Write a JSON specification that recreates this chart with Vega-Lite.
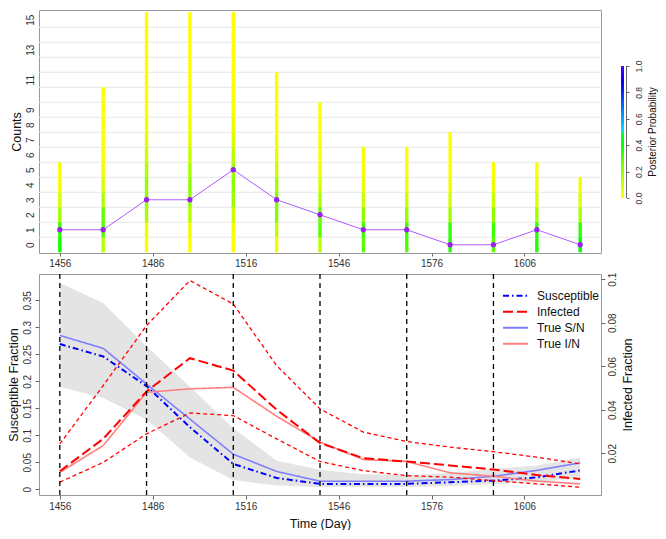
{
  "$schema": "https://vega.github.io/schema/vega-lite/v6.json",
  "padding": {"left": 6, "top": 9, "right": 0, "bottom": 0},
  "config": {
    "font": "Liberation Sans",
    "view": {"stroke": "#999999", "strokeWidth": 1},
    "axis": {"labelFont": "Liberation Sans", "labelFontSize": 10, "labelColor": "#333333", "titleFont": "Liberation Sans", "titleFontSize": 12.5, "titleFontWeight": "normal", "titleColor": "#111111", "tickColor": "#666666", "domain": false, "grid": false, "labelOverlap": false},
    "legend": {"labelFont": "Liberation Sans", "labelFontSize": 12, "labelColor": "#111111"}
  },
  "datasets": {
    "post": [
      {"day": 1456, "k": [0,1,2,3,4,5], "p": [0.38,0.34,0.18,0.07,0.02,0.01]},
      {"day": 1470, "k": [0,1,2,3,4,5,6,7,8,9,10], "p": [0.14,0.3,0.28,0.15,0.07,0.03,0.01,0.005,0.003,0.001,0.001]},
      {"day": 1484, "k": [0,1,2,3,4,5,6,7,8,9,10,11,12,13,14,15], "p": [0.01,0.03,0.17,0.22,0.21,0.16,0.1,0.05,0.03,0.01,0.005,0.003,0.002,0.001,0.001,0.001]},
      {"day": 1498, "k": [0,1,2,3,4,5,6,7,8,9,10,11,12,13,14,15], "p": [0.005,0.03,0.14,0.21,0.22,0.17,0.11,0.06,0.03,0.015,0.005,0.003,0.002,0.001,0.001,0.001]},
      {"day": 1512, "k": [0,1,2,3,4,5,6,7,8,9,10,11,12,13,14,15], "p": [0.003,0.02,0.1,0.2,0.22,0.19,0.13,0.07,0.04,0.015,0.007,0.003,0.002,0.001,0.001,0.001]},
      {"day": 1526, "k": [0,1,2,3,4,5,6,7,8,9,10,11], "p": [0.03,0.12,0.24,0.25,0.18,0.1,0.05,0.02,0.008,0.004,0.002,0.001]},
      {"day": 1540, "k": [0,1,2,3,4,5,6,7,8,9], "p": [0.14,0.3,0.28,0.16,0.07,0.03,0.01,0.005,0.002,0.001]},
      {"day": 1554, "k": [0,1,2,3,4,5,6], "p": [0.3,0.33,0.22,0.1,0.04,0.01,0.005]},
      {"day": 1568, "k": [0,1,2,3,4,5,6], "p": [0.31,0.33,0.21,0.1,0.03,0.01,0.005]},
      {"day": 1582, "k": [0,1,2,3,4,5,6,7], "p": [0.36,0.34,0.18,0.08,0.03,0.01,0.005,0.002]},
      {"day": 1596, "k": [0,1,2,3,4,5], "p": [0.3,0.33,0.22,0.1,0.04,0.01]},
      {"day": 1610, "k": [0,1,2,3,4,5], "p": [0.36,0.35,0.18,0.07,0.03,0.01]},
      {"day": 1624, "k": [0,1,2,3,4], "p": [0.4,0.35,0.17,0.06,0.02]}
    ],
    "truth": [
      {"day": 1456, "n": 1}, {"day": 1470, "n": 1}, {"day": 1484, "n": 3}, {"day": 1498, "n": 3},
      {"day": 1512, "n": 5}, {"day": 1526, "n": 3}, {"day": 1540, "n": 2}, {"day": 1554, "n": 1},
      {"day": 1568, "n": 1}, {"day": 1582, "n": 0}, {"day": 1596, "n": 0}, {"day": 1610, "n": 1}, {"day": 1624, "n": 0}
    ],
    "grid": [
      {"g": 0.5}, {"g": 1.5}, {"g": 2.5}, {"g": 3.5}, {"g": 4.5}, {"g": 5.5}, {"g": 6.5}, {"g": 7.5},
      {"g": 8.5}, {"g": 9.5}, {"g": 10.5}, {"g": 11.5}, {"g": 12.5}, {"g": 13.5}, {"g": 14.5}
    ],
    "frac": [
      {"day": 1456, "s_lo": 0.190, "s_hi": 0.382, "s_est": 0.269, "s_true": 0.285, "i_lo": 0.0067, "i_hi": 0.0243, "i_est": 0.0117, "i_true": 0.0112},
      {"day": 1470, "s_lo": 0.169, "s_hi": 0.345, "s_est": 0.246, "s_true": 0.261, "i_lo": 0.0158, "i_hi": 0.0511, "i_est": 0.0266, "i_true": 0.0235},
      {"day": 1484, "s_lo": 0.129, "s_hi": 0.265, "s_est": 0.191, "s_true": 0.195, "i_lo": 0.0289, "i_hi": 0.0787, "i_est": 0.0484, "i_true": 0.0480},
      {"day": 1498, "s_lo": 0.059, "s_hi": 0.190, "s_est": 0.115, "s_true": 0.130, "i_lo": 0.0385, "i_hi": 0.0994, "i_est": 0.0637, "i_true": 0.0496},
      {"day": 1512, "s_lo": 0.017, "s_hi": 0.113, "s_est": 0.047, "s_true": 0.065, "i_lo": 0.0373, "i_hi": 0.0886, "i_est": 0.0580, "i_true": 0.0503},
      {"day": 1526, "s_lo": 0.007, "s_hi": 0.053, "s_est": 0.021, "s_true": 0.033, "i_lo": 0.0266, "i_hi": 0.0603, "i_est": 0.0400, "i_true": 0.0370},
      {"day": 1540, "s_lo": 0.004, "s_hi": 0.036, "s_est": 0.010, "s_true": 0.015, "i_lo": 0.0162, "i_hi": 0.0404, "i_est": 0.0247, "i_true": 0.0252},
      {"day": 1554, "s_lo": 0.004, "s_hi": 0.028, "s_est": 0.010, "s_true": 0.015, "i_lo": 0.0120, "i_hi": 0.0297, "i_est": 0.0177, "i_true": 0.0171},
      {"day": 1568, "s_lo": 0.004, "s_hi": 0.026, "s_est": 0.010, "s_true": 0.015, "i_lo": 0.0097, "i_hi": 0.0254, "i_est": 0.0162, "i_true": 0.0162},
      {"day": 1582, "s_lo": 0.006, "s_hi": 0.030, "s_est": 0.013, "s_true": 0.018, "i_lo": 0.0090, "i_hi": 0.0228, "i_est": 0.0144, "i_true": 0.0110},
      {"day": 1596, "s_lo": 0.010, "s_hi": 0.038, "s_est": 0.016, "s_true": 0.024, "i_lo": 0.0074, "i_hi": 0.0207, "i_est": 0.0125, "i_true": 0.0094},
      {"day": 1610, "s_lo": 0.013, "s_hi": 0.044, "s_est": 0.022, "s_true": 0.035, "i_lo": 0.0059, "i_hi": 0.0182, "i_est": 0.0100, "i_true": 0.0072},
      {"day": 1624, "s_lo": 0.022, "s_hi": 0.059, "s_est": 0.035, "s_true": 0.049, "i_lo": 0.0044, "i_hi": 0.0151, "i_est": 0.0082, "i_true": 0.0059}
    ],
    "obs": [{"day": 1456}, {"day": 1484}, {"day": 1512}, {"day": 1540}, {"day": 1568}, {"day": 1596}],
    "cbar": [{"lo": 0, "hi": 1}]
  },
  "resolve": {"scale": {"color": "independent", "strokeDash": "independent"}},
  "spacing": 2,
  "vconcat": [
    {
      "spacing": 19,
      "hconcat": [
        {
          "width": 562,
          "height": 243,
          "layer": [
            {
              "data": {"name": "grid"},
              "mark": {"type": "rule", "color": "#e6e6e6", "strokeWidth": 1},
              "encoding": {
                "y": {"field": "g", "type": "quantitative", "scale": {"domain": [-0.55, 15.65], "nice": false, "zero": false}, "axis": {"title": "Counts", "values": [0,1,2,3,4,5,6,7,8,9,11,13,15], "format": "d", "labelAngle": -90, "ticks": false, "labelPadding": 4, "titlePadding": 2, "labelOverlap": false}}
              }
            },
            {
              "data": {"name": "post"},
              "transform": [{"flatten": ["k", "p"]}],
              "mark": {"type": "tick", "orient": "vertical", "size": 15.2, "thickness": 3.4, "opacity": 1},
              "encoding": {
                "x": {"field": "day", "type": "quantitative", "scale": {"domain": [1449.28, 1630.72], "nice": false, "zero": false}, "axis": {"title": null, "values": [1456,1486,1516,1546,1576,1606], "format": "d", "tickSize": 3, "labelPadding": 2}},
                "y": {"field": "k", "type": "quantitative", "scale": {"domain": [-0.55, 15.65], "nice": false, "zero": false}, "axis": {"title": "Counts", "values": [0,1,2,3,4,5,6,7,8,9,11,13,15], "format": "d", "labelAngle": -90, "ticks": false, "labelPadding": 4, "titlePadding": 2, "labelOverlap": false}},
                "color": {"field": "p", "type": "quantitative", "legend": null, "scale": {"type": "linear", "domain": [0, 0.1, 0.25, 0.4, 0.5, 0.5001, 0.625, 0.75, 0.875, 1], "range": ["#ffff00", "#ccff00", "#80ff00", "#00ff00", "#00ff4d", "#00e5ff", "#0099ff", "#004cff", "#0000ff", "#4c00ff"], "interpolate": "rgb"}}
              }
            },
            {
              "data": {"name": "truth"},
              "mark": {"type": "line", "color": "#b05cff", "strokeWidth": 1, "point": {"filled": true, "size": 28, "color": "#9a22f0"}},
              "encoding": {
                "x": {"field": "day", "type": "quantitative", "scale": {"domain": [1449.28, 1630.72], "nice": false, "zero": false}, "axis": {"title": null, "values": [1456,1486,1516,1546,1576,1606], "format": "d", "tickSize": 3, "labelPadding": 2}},
                "y": {"field": "n", "type": "quantitative", "scale": {"domain": [-0.55, 15.65], "nice": false, "zero": false}, "axis": {"title": "Counts", "values": [0,1,2,3,4,5,6,7,8,9,11,13,15], "format": "d", "labelAngle": -90, "ticks": false, "labelPadding": 4, "titlePadding": 2, "labelOverlap": false}}
              }
            }
          ]
        },
        {
          "width": 5.5,
          "height": 243,
          "view": {"stroke": null},
          "data": {"name": "cbar"},
          "layer": [
            {
              "mark": {"type": "rect", "color": {"gradient": "linear", "x1": 0, "y1": 1, "x2": 0, "y2": 0, "stops": [
                {"offset": 0, "color": "#ffff00"}, {"offset": 0.1, "color": "#ccff00"}, {"offset": 0.25, "color": "#80ff00"},
                {"offset": 0.4, "color": "#00ff00"}, {"offset": 0.5, "color": "#00ff4d"}, {"offset": 0.5001, "color": "#00e5ff"},
                {"offset": 0.625, "color": "#0099ff"}, {"offset": 0.75, "color": "#004cff"}, {"offset": 0.875, "color": "#0000ff"}, {"offset": 1, "color": "#4c00ff"}]}},
              "encoding": {
                "x": {"datum": 0, "type": "quantitative", "scale": {"domain": [0, 1], "nice": false, "zero": false}, "axis": null},
                "x2": {"datum": 0.55},
                "y": {"field": "lo", "type": "quantitative", "scale": {"domain": [-0.4167, 1.4242], "nice": false, "zero": false}, "axis": {"orient": "right", "title": "Posterior Probability", "values": [0, 0.2, 0.4, 0.6, 0.8, 1], "format": ".1f", "labelAngle": -90, "labelFontSize": 8.5, "tickSize": 2.5, "labelPadding": 5, "titleFontSize": 10, "titleAngle": -90, "titleBaseline": "top", "titlePadding": 5, "labelOverlap": false}},
                "y2": {"field": "hi"}
              }
            },
            {
              "mark": {"type": "rule", "color": "#666666", "strokeWidth": 1},
              "encoding": {
                "x": {"datum": 1, "type": "quantitative", "scale": {"domain": [0, 1], "nice": false, "zero": false}, "axis": null},
                "y": {"field": "lo", "type": "quantitative", "scale": {"domain": [-0.4167, 1.4242], "nice": false, "zero": false}, "axis": {"orient": "right", "title": "Posterior Probability", "values": [0, 0.2, 0.4, 0.6, 0.8, 1], "format": ".1f", "labelAngle": -90, "labelFontSize": 8.5, "tickSize": 2.5, "labelPadding": 5, "titleFontSize": 10, "titleAngle": -90, "titleBaseline": "top", "titlePadding": 5, "labelOverlap": false}},
                "y2": {"field": "hi"}
              }
            }
          ]
        }
      ]
    },
    {
      "width": 562,
      "height": 221,
      "data": {"name": "frac"},
      "resolve": {"scale": {"y": "independent"}},
      "layer": [
        {
          "layer": [
            {
              "mark": {"type": "area", "color": "#e4e4e4"},
              "encoding": {
                "x": {"field": "day", "type": "quantitative", "scale": {"domain": [1449.28, 1630.72], "nice": false, "zero": false}, "axis": {"title": "Time (Day)", "values": [1456,1486,1516,1546,1576,1606], "format": "d", "tickSize": 4, "labelPadding": 2, "titlePadding": 6}},
                "y": {"field": "s_lo", "type": "quantitative", "scale": {"domain": [-0.0106, 0.3987], "nice": false, "zero": false}, "axis": {"title": "Susceptible Fraction", "values": [0, 0.05, 0.1, 0.15, 0.2, 0.25, 0.3, 0.35], "format": "~g", "labelAngle": -90, "tickSize": 4, "labelPadding": 3, "titlePadding": 2, "labelOverlap": false}},
                "y2": {"field": "s_hi"}
              }
            },
            {
              "mark": {"type": "line", "strokeWidth": 1.6},
              "encoding": {
                "x": {"field": "day", "type": "quantitative", "scale": {"domain": [1449.28, 1630.72], "nice": false, "zero": false}, "axis": {"title": "Time (Day)", "values": [1456,1486,1516,1546,1576,1606], "format": "d", "tickSize": 4, "labelPadding": 2, "titlePadding": 6}},
                "y": {"field": "s_true", "type": "quantitative", "scale": {"domain": [-0.0106, 0.3987], "nice": false, "zero": false}, "axis": {"title": "Susceptible Fraction", "values": [0, 0.05, 0.1, 0.15, 0.2, 0.25, 0.3, 0.35], "format": "~g", "labelAngle": -90, "tickSize": 4, "labelPadding": 3, "titlePadding": 2, "labelOverlap": false}},
                "color": {"datum": "True S/N", "type": "nominal", "scale": {"domain": ["Susceptible", "Infected", "True S/N", "True I/N"], "range": ["#0000ff", "#ff0000", "#8080ff", "#ff8080"]}, "legend": {"title": null, "orient": "none", "legendX": 463, "legendY": 14, "symbolType": "stroke", "symbolSize": 625, "symbolStrokeWidth": 2, "labelOffset": 8, "clipHeight": 15.3, "rowPadding": 0, "padding": 0}},
                "strokeDash": {"datum": "True S/N", "type": "nominal", "scale": {"domain": ["Susceptible", "Infected", "True S/N", "True I/N"], "range": [[6, 3, 1.5, 3], [10, 4], [1, 0], [1, 0]]}, "legend": {"title": null, "orient": "none", "legendX": 463, "legendY": 14, "symbolType": "stroke", "symbolSize": 625, "symbolStrokeWidth": 2, "labelOffset": 8, "clipHeight": 15.3, "rowPadding": 0, "padding": 0}}
              }
            },
            {
              "mark": {"type": "line", "strokeWidth": 2},
              "encoding": {
                "x": {"field": "day", "type": "quantitative", "scale": {"domain": [1449.28, 1630.72], "nice": false, "zero": false}, "axis": {"title": "Time (Day)", "values": [1456,1486,1516,1546,1576,1606], "format": "d", "tickSize": 4, "labelPadding": 2, "titlePadding": 6}},
                "y": {"field": "s_est", "type": "quantitative", "scale": {"domain": [-0.0106, 0.3987], "nice": false, "zero": false}, "axis": {"title": "Susceptible Fraction", "values": [0, 0.05, 0.1, 0.15, 0.2, 0.25, 0.3, 0.35], "format": "~g", "labelAngle": -90, "tickSize": 4, "labelPadding": 3, "titlePadding": 2, "labelOverlap": false}},
                "color": {"datum": "Susceptible", "type": "nominal"},
                "strokeDash": {"datum": "Susceptible", "type": "nominal"}
              }
            }
          ]
        },
        {
          "layer": [
            {
              "mark": {"type": "line", "color": "#ff0000", "strokeWidth": 1.3, "strokeDash": [4, 3]},
              "encoding": {
                "x": {"field": "day", "type": "quantitative"},
                "y": {"field": "i_hi", "type": "quantitative", "scale": {"domain": [0.0008, 0.1024], "nice": false, "zero": false}, "axis": {"orient": "right", "title": "Infected Fraction", "values": [0.02, 0.04, 0.06, 0.08, 0.1], "format": "~g", "labelAngle": -90, "tickSize": 4, "labelPadding": 2, "titlePadding": 4, "titleAngle": -90, "titleBaseline": "top", "labelOverlap": false}}
              }
            },
            {
              "mark": {"type": "line", "color": "#ff0000", "strokeWidth": 1.3, "strokeDash": [4, 3]},
              "encoding": {
                "x": {"field": "day", "type": "quantitative"},
                "y": {"field": "i_lo", "type": "quantitative", "scale": {"domain": [0.0008, 0.1024], "nice": false, "zero": false}, "axis": {"orient": "right", "title": "Infected Fraction", "values": [0.02, 0.04, 0.06, 0.08, 0.1], "format": "~g", "labelAngle": -90, "tickSize": 4, "labelPadding": 2, "titlePadding": 4, "titleAngle": -90, "titleBaseline": "top", "labelOverlap": false}}
              }
            },
            {
              "mark": {"type": "line", "strokeWidth": 1.6},
              "encoding": {
                "x": {"field": "day", "type": "quantitative"},
                "y": {"field": "i_true", "type": "quantitative", "scale": {"domain": [0.0008, 0.1024], "nice": false, "zero": false}, "axis": {"orient": "right", "title": "Infected Fraction", "values": [0.02, 0.04, 0.06, 0.08, 0.1], "format": "~g", "labelAngle": -90, "tickSize": 4, "labelPadding": 2, "titlePadding": 4, "titleAngle": -90, "titleBaseline": "top", "labelOverlap": false}},
                "color": {"datum": "True I/N", "type": "nominal"},
                "strokeDash": {"datum": "True I/N", "type": "nominal"}
              }
            },
            {
              "mark": {"type": "line", "strokeWidth": 2},
              "encoding": {
                "x": {"field": "day", "type": "quantitative"},
                "y": {"field": "i_est", "type": "quantitative", "scale": {"domain": [0.0008, 0.1024], "nice": false, "zero": false}, "axis": {"orient": "right", "title": "Infected Fraction", "values": [0.02, 0.04, 0.06, 0.08, 0.1], "format": "~g", "labelAngle": -90, "tickSize": 4, "labelPadding": 2, "titlePadding": 4, "titleAngle": -90, "titleBaseline": "top", "labelOverlap": false}},
                "color": {"datum": "Infected", "type": "nominal"},
                "strokeDash": {"datum": "Infected", "type": "nominal"}
              }
            },
            {
              "data": {"name": "obs"},
              "mark": {"type": "rule", "color": "#000000", "strokeWidth": 1.3, "strokeDash": [5, 4]},
              "encoding": {
                "x": {"field": "day", "type": "quantitative"}
              }
            }
          ]
        }
      ]
    }
  ]
}
